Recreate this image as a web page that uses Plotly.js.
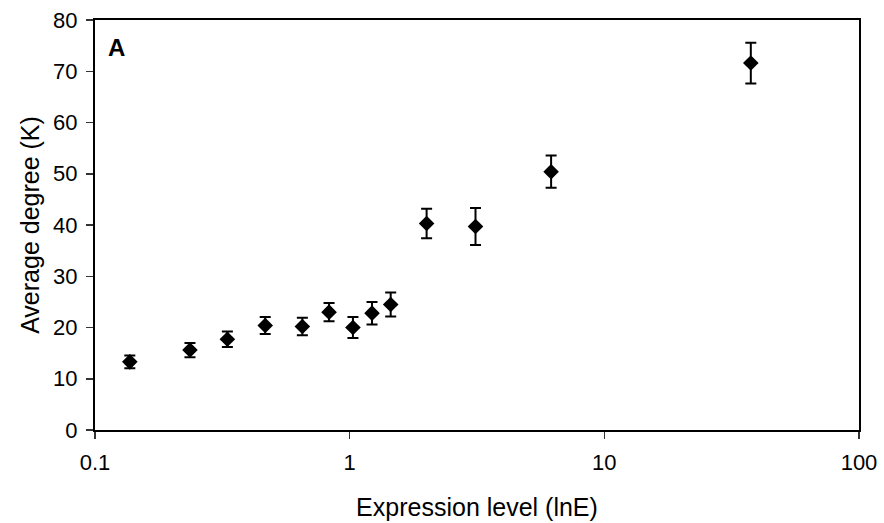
<!DOCTYPE html>
<html>
<head>
<meta charset="utf-8">
<script src="https://cdn.plot.ly/plotly-3.0.1.min.js"></script>
<style>html,body{margin:0;padding:0;background:#fff;}#chart{width:884px;height:523px;}</style>
</head>
<body>
<div id="chart"></div>
<script>
const expressionLevel = [0.137, 0.236, 0.331, 0.466, 0.652, 0.830, 1.03, 1.224, 1.449, 2.005, 3.12, 6.18, 37.6];
const averageDegree   = [13.3, 15.6, 17.7, 20.4, 20.2, 23.0, 20.0, 22.8, 24.5, 40.3, 39.7, 50.4, 71.6];
const errorValues     = [1.24, 1.4, 1.52, 1.66, 1.69, 1.8, 2.05, 2.2, 2.34, 2.87, 3.6, 3.15, 3.97];
const xTickVals = [0.1, 1, 10, 100];
const xTickText = ['0.1', '1', '10', '100'];

const trace = {
  x: expressionLevel,
  y: averageDegree,
  type: 'scatter',
  mode: 'markers',
  marker: {symbol: 'diamond', size: 12, color: '#000'},
  error_y: {type: 'data', array: errorValues, visible: true, color: '#000', thickness: 2, width: 5.5},
  showlegend: false,
  hoverinfo: 'x+y'
};

const fontFam = '"Liberation Sans", Arial, sans-serif';
const layout = {
  width: 884, height: 523,
  margin: {l: 95, r: 25, t: 20, b: 93},
  paper_bgcolor: '#fff', plot_bgcolor: '#fff',
  font: {family: fontFam, color: '#000'},
  xaxis: {
    type: 'log', range: [-1, 2],
    tickvals: xTickVals, ticktext: xTickText,
    ticks: 'outside', ticklen: 7, tickwidth: 1.5, tickcolor: '#333',
    showline: true, linecolor: '#000', linewidth: 2, mirror: true,
    showgrid: false, zeroline: false,
    tickfont: {size: 22, family: fontFam},
    ticklabelstandoff: 5,
    title: {text: 'Expression level (lnE)', font: {size: 25, family: fontFam}, standoff: 24}
  },
  yaxis: {
    range: [0, 80], dtick: 10, tick0: 0,
    ticks: 'outside', ticklen: 7, tickwidth: 1.5, tickcolor: '#333',
    showline: true, linecolor: '#000', linewidth: 2, mirror: true,
    showgrid: false, zeroline: false,
    tickfont: {size: 22, family: fontFam},
    ticklabelstandoff: 4,
    title: {text: 'Average degree (K)', font: {size: 25, family: fontFam}, standoff: 6}
  },
  annotations: [{
    text: '<b>A</b>', xref: 'paper', yref: 'paper', x: 0.015, y: 0.97,
    xanchor: 'left', yanchor: 'top', showarrow: false,
    font: {size: 24, family: fontFam, color: '#000'}
  }]
};

Plotly.newPlot('chart', [trace], layout, {displayModeBar: false, staticPlot: true});
</script>
</body>
</html>
